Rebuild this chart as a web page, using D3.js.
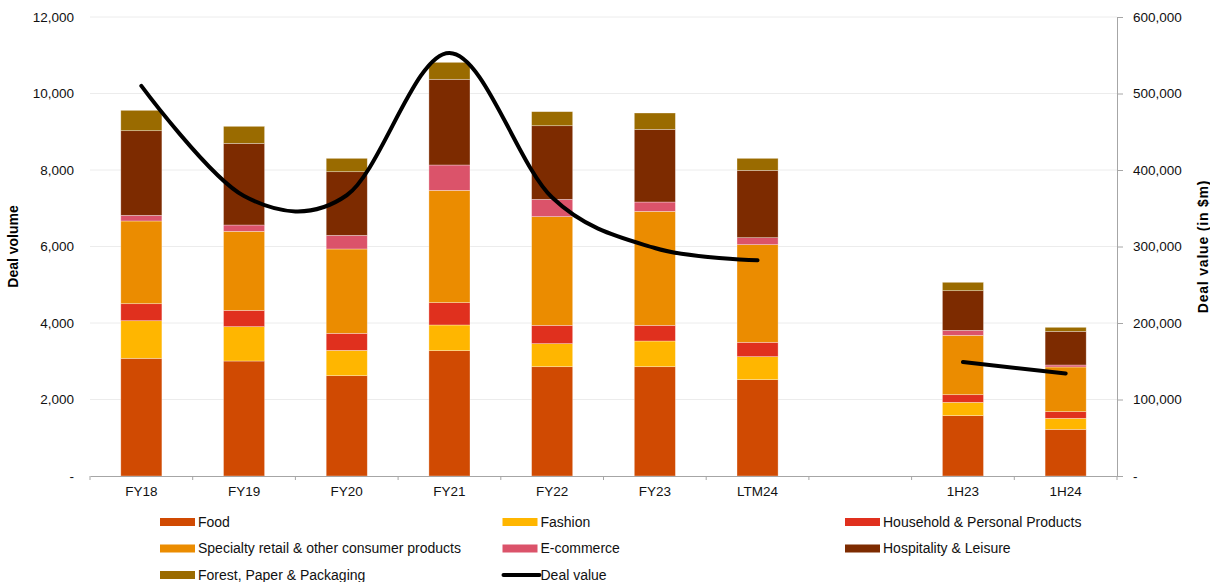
<!DOCTYPE html>
<html>
<head>
<meta charset="utf-8">
<script src="https://cdn.jsdelivr.net/npm/d3@7"></script>
<style>
  body { margin: 0; background: #fff; }
  svg { display: block; font-family: Arial, "Liberation Sans", sans-serif; }
  .tick text { font-size: 13.5px; fill: #111; }
</style>
</head>
<body>
<svg id="chart" width="1210" height="582"></svg>
<script>
// categories ("" is the empty slot between LTM24 and the half-years)
var categories = ["FY18", "FY19", "FY20", "FY21", "FY22", "FY23", "LTM24", "", "1H23", "1H24"];

var seriesNames = ["Food", "Fashion", "Household & Personal Products", "Specialty retail & other consumer products",
                   "E-commerce", "Hospitality & Leisure", "Forest, Paper & Packaging"];
var seriesColors = ["#d04a02", "#ffb600", "#e0301e", "#eb8c00", "#db536a", "#7d2b00", "#9a6b00"];

// deal volume per sector (null = empty slot)
var food        = [3077, 3006, 2623, 3277, 2858, 2858, 2519, null, 1578, 1220];
var fashion     = [983, 898, 662, 671, 602, 671, 601, null, 348, 288];
var household   = [445, 427, 445, 584, 479, 410, 375, null, 200, 174];
var specialty   = [2162, 2065, 2205, 2936, 2841, 2980, 2553, null, 1552, 1168];
var ecommerce   = [148, 166, 357, 663, 453, 244, 183, null, 130, 52];
var hospitality = [2213, 2135, 1664, 2240, 1925, 1900, 1760, null, 1037, 880];
var forest      = [532, 445, 349, 444, 367, 427, 314, null, 219, 105];

// deal value in $m
var dealValue = [510000, 366000, 367000, 553000, 364000, 298000, 282000, null, 149000, 134000];

var leftTicks = [0, 2000, 4000, 6000, 8000, 10000, 12000];
var rightTicks = [0, 100000, 200000, 300000, 400000, 500000, 600000];

var svg = d3.select("#chart");
var margin = { top: 17, right: 93, bottom: 106, left: 90 };
var width = +svg.attr("width") - margin.left - margin.right;
var height = +svg.attr("height") - margin.top - margin.bottom;

var seriesValues = [food, fashion, household, specialty, ecommerce, hospitality, forest];

var table = categories.map(function (c, i) {
    var row = { cat: c };
    seriesNames.forEach(function (s, j) { row[s] = seriesValues[j][i] || 0; });
    return row;
});

var x = d3.scaleBand().domain(categories).range([0, width]).paddingInner(0.6).paddingOuter(0.3);
var y = d3.scaleLinear().domain([0, 12000]).range([height, 0]);
var y2 = d3.scaleLinear().domain([0, 600000]).range([height, 0]);

var fmt = function (d) { return d === 0 ? "-" : d3.format(",")(d); };

var g = svg.append("g").attr("transform", "translate(" + margin.left + "," + margin.top + ")");

// gridlines
g.append("g")
    .selectAll("line")
    .data(leftTicks.filter(function (d) { return d > 0; }))
    .enter().append("line")
    .attr("x1", 0).attr("x2", width)
    .attr("y1", function (d) { return y(d); })
    .attr("y2", function (d) { return y(d); })
    .attr("stroke", "#ececec")
    .attr("stroke-width", 1);

// left axis (labels only)
g.append("g")
    .attr("class", "axis axis--y")
    .call(d3.axisLeft(y).tickValues(leftTicks).tickFormat(fmt).tickSize(0).tickPadding(16))
    .call(function (a) { a.select(".domain").remove(); });

// right axis
var ra = g.append("g")
    .attr("class", "axis axis--y2")
    .attr("transform", "translate(" + width + ",0)")
    .call(d3.axisRight(y2).tickValues(rightTicks).tickFormat(fmt).tickSize(6).tickPadding(10).tickSizeOuter(0));
ra.select(".domain").attr("stroke", "#a6a6a6");
ra.selectAll(".tick line").attr("stroke", "#a6a6a6");

// stacked bars
var stack = d3.stack().keys(seriesNames);
var layers = stack(table.filter(function (d) { return d.cat !== ""; }));

g.selectAll(".layer")
    .data(layers)
    .enter().append("g")
    .attr("class", "layer")
    .attr("fill", function (d, i) { return seriesColors[i]; })
    .selectAll("rect")
    .data(function (d) { return d; })
    .enter().append("rect")
    .attr("x", function (d) { return x(d.data.cat); })
    .attr("y", function (d) { return y(d[1]); })
    .attr("width", x.bandwidth())
    .attr("height", function (d) { return y(d[0]) - y(d[1]); })
    .attr("stroke", "rgba(255,255,255,0.45)")
    .attr("stroke-width", 0.7);

// x axis
var xa = g.append("g")
    .attr("class", "axis axis--x")
    .attr("transform", "translate(0," + height + ")")
    .call(d3.axisBottom(x).tickSize(0).tickPadding(10).tickSizeOuter(0));
xa.select(".domain").attr("stroke", "#a6a6a6");
xa.selectAll(".boundary")
    .data(d3.range(categories.length + 1))
    .enter().append("line")
    .attr("class", "boundary")
    .attr("x1", function (i) { return i * x.step(); })
    .attr("x2", function (i) { return i * x.step(); })
    .attr("y1", 0).attr("y2", 4)
    .attr("stroke", "#a6a6a6");

// deal value line
var line = d3.line()
    .defined(function (d) { return d.v != null; })
    .x(function (d) { return x(d.cat) + x.bandwidth() / 2; })
    .y(function (d) { return y2(d.v); })
    .curve(d3.curveCatmullRom.alpha(0));

g.append("path")
    .datum(categories.map(function (c, i) { return { cat: c, v: dealValue[i] }; }))
    .attr("fill", "none")
    .attr("stroke", "#000")
    .attr("stroke-width", 4)
    .attr("stroke-linecap", "round")
    .attr("d", line);

// axis titles
svg.append("text")
    .attr("transform", "translate(18," + (margin.top + height / 2) + ") rotate(-90)")
    .attr("text-anchor", "middle")
    .style("font-size", "14px").style("font-weight", "bold")
    .text("Deal volume");

svg.append("text")
    .attr("transform", "translate(1208," + (margin.top + height / 2) + ") rotate(-90)")
    .attr("text-anchor", "middle")
    .style("font-size", "14px").style("font-weight", "bold")
    .style("letter-spacing", "0.8px")
    .text("Deal value (in $m)");

// legend
var legendItems = seriesNames.map(function (s, i) { return { name: s, color: seriesColors[i], type: "bar" }; });
legendItems.push({ name: "Deal value", color: "#000", type: "line" });

var legend = svg.append("g").attr("class", "legend");
var item = legend.selectAll(".item")
    .data(legendItems)
    .enter().append("g")
    .attr("class", "item")
    .attr("transform", function (d, i) {
        return "translate(" + (160 + (i % 3) * 342.5) + "," + (522 + Math.floor(i / 3) * 26.5) + ")";
    });

item.filter(function (d) { return d.type === "bar"; })
    .append("rect")
    .attr("x", 0).attr("y", -4).attr("width", 35).attr("height", 8)
    .attr("fill", function (d) { return d.color; });

item.filter(function (d) { return d.type === "line"; })
    .append("line")
    .attr("x1", 1).attr("x2", 37).attr("y1", 0).attr("y2", 0)
    .attr("stroke", "#000").attr("stroke-width", 4).attr("stroke-linecap", "round");

item.append("text")
    .attr("x", 38)
    .attr("dy", "0.35em")
    .style("font-size", "14px")
    .attr("fill", "#111")
    .text(function (d) { return d.name; });
</script>
</body>
</html>
